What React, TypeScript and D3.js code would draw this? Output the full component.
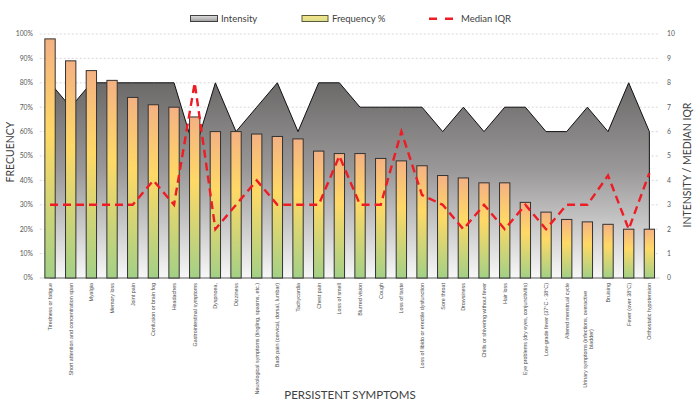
import React from "react";
import * as d3 from "d3";

const categories: string[] = [
  "Tiredness or fatigue",
  "Short attention and concentration span",
  "Myalgia",
  "Memory loss",
  "Joint pain",
  "Confusion or brain fog",
  "Headaches",
  "Gastrointestinal symptoms",
  "Dyspnoea,",
  "Dizziness",
  "Neurological symptoms (tingling, spasms, etc.)",
  "Back pain (cervical, dorsal, lumbar)",
  "Tachycardia",
  "Chest pain",
  "Loss of smell",
  "Blurred vision",
  "Cough",
  "Loss of taste",
  "Loss of libido or erectile dysfunction",
  "Sore throat",
  "Drowsiness",
  "Chills or shivering without fever",
  "Hair loss",
  "Eye problems (dry eyes, conjunctivitis)",
  "Low-grade fever (37°C - 38°C)",
  "Altered menstrual cycle",
  "Urinary symptoms (infections, overactive|bladder)",
  "Bruising",
  "Fever (over 38°C)",
  "Orthostatic hypotension",
];

const frequency: number[] = [
  98, 89, 85, 81, 74, 71, 70, 66, 60, 60, 59, 58, 57, 52, 51, 51, 49, 48, 46, 42,
  41, 39, 39, 31, 27, 24, 23, 22, 20, 20,
];

const intensity: number[] = [
  8, 7, 8, 8, 8, 8, 8, 5.2, 8, 6, 7, 8, 6, 8, 8, 7, 7, 7, 7, 6, 7, 6, 7, 7, 6, 6,
  7, 6, 8, 6,
];

const medianIQR: number[] = [
  3, 3, 3, 3, 3, 4, 3, 8, 2, 3, 4, 3, 3, 3, 5, 3, 3, 6, 3.4, 3, 2, 3, 2, 3, 2, 3,
  3, 4.2, 2, 4.3,
];

const leftTicks: number[] = [0, 10, 20, 30, 40, 50, 60, 70, 80, 90, 100];
const rightTicks: number[] = [0, 1, 2, 3, 4, 5, 6, 7, 8, 9, 10];

const W = 700;
const H = 410;
const PL = 39.7;
const PR = 659.7;
const PT = 34;
const PB = 278;

const tickFont = "Lato, 'Open Sans', sans-serif";
const labelFont = "'Liberation Sans', Arial, sans-serif";

export default function App() {
  const x = d3
    .scaleBand<string>()
    .domain(categories)
    .range([PL, PR])
    .paddingInner(0.5)
    .paddingOuter(0.25);
  const cx = (c: string) => (x(c) as number) + x.bandwidth() / 2;
  const yL = d3.scaleLinear().domain([0, 100]).range([PB, PT]);
  const yR = d3.scaleLinear().domain([0, 10]).range([PB, PT]);

  const areaGen = d3
    .area<number>()
    .x((_, i) => cx(categories[i]))
    .y0(yR(0))
    .y1((d) => yR(d));
  const lineGen = d3
    .line<number>()
    .x((_, i) => cx(categories[i]))
    .y((d) => yR(d));

  const labelFs = 5.4;
  const labelTop = 283;

  return (
    <svg
      width={W}
      height={H}
      style={{ position: "absolute", left: 0, top: 0, background: "#fff" }}
    >
      <defs>
        <linearGradient
          id="areaGrad"
          gradientUnits="userSpaceOnUse"
          x1="0"
          y1={yR(8)}
          x2="0"
          y2={yR(0)}
        >
          <stop offset="0" stopColor="#6c6969" />
          <stop offset="0.45" stopColor="#9a9898" />
          <stop offset="1" stopColor="#f8f8f8" />
        </linearGradient>
        <linearGradient id="barGrad" x1="0" y1="0" x2="0" y2="1">
          <stop offset="0" stopColor="#f4b183" />
          <stop offset="0.4" stopColor="#ffd966" />
          <stop offset="1" stopColor="#a3d086" />
        </linearGradient>
        <linearGradient id="legIntGrad" x1="0" y1="0" x2="0" y2="1">
          <stop offset="0" stopColor="#e0e0e0" />
          <stop offset="1" stopColor="#9c9c9c" />
        </linearGradient>
        <linearGradient id="legFreqGrad" x1="0" y1="0" x2="0" y2="1">
          <stop offset="0" stopColor="#f7e48a" />
          <stop offset="1" stopColor="#d9df8e" />
        </linearGradient>
      </defs>

      {/* gridlines */}
      {leftTicks.slice(1).map((t) => (
        <line
          key={"g" + t}
          x1={PL}
          x2={PR}
          y1={yL(t)}
          y2={yL(t)}
          stroke="#cfcfcf"
          strokeWidth={0.8}
          strokeDasharray="2,2"
        />
      ))}

      {/* intensity area */}
      <path
        d={areaGen(intensity) || ""}
        fill="url(#areaGrad)"
        stroke="#111"
        strokeWidth={1}
        strokeLinejoin="miter"
      />

      {/* axis baseline */}
      <line x1={PL} x2={PR} y1={PB} y2={PB} stroke="#d0d0d0" strokeWidth={1} />

      {/* bars */}
      {frequency.map((v, i) => (
        <rect
          key={"b" + i}
          x={x(categories[i])}
          y={yL(v)}
          width={x.bandwidth()}
          height={PB - yL(v)}
          fill="url(#barGrad)"
          stroke="#333"
          strokeWidth={1}
        />
      ))}

      {/* median IQR line */}
      <path
        d={lineGen(medianIQR) || ""}
        fill="none"
        stroke="#ee1c25"
        strokeWidth={2.4}
        strokeDasharray="8,5"
      />

      {/* left ticks */}
      {leftTicks.map((t) => (
        <text
          key={"l" + t}
          x={33}
          y={yL(t) + 2.4}
          textAnchor="end"
          fontSize={6.8}
          fontFamily={tickFont}
          fill="#595959"
        >
          {t + "%"}
        </text>
      ))}
      {/* right ticks */}
      {rightTicks.map((t) => (
        <text
          key={"r" + t}
          x={667}
          y={yR(t) + 2.4}
          textAnchor="start"
          fontSize={6.8}
          fontFamily={tickFont}
          fill="#595959"
        >
          {t}
        </text>
      ))}

      {/* x labels */}
      {categories.map((c, i) => {
        const lines = c.split("|");
        const px = cx(c);
        if (lines.length === 1) {
          return (
            <text
              key={"x" + i}
              transform={`translate(${px + labelFs * 0.35},${labelTop}) rotate(-90)`}
              textAnchor="end"
              fontSize={labelFs}
              fontFamily={labelFont}
              fill="#505050"
            >
              {c}
            </text>
          );
        }
        const longest = d3.max(lines, (l) => l.length) as number;
        const mid = labelTop + longest * labelFs * 0.26;
        return (
          <text
            key={"x" + i}
            transform={`translate(${px - 2.6 + labelFs * 0.35},${mid}) rotate(-90)`}
            textAnchor="middle"
            fontSize={labelFs}
            fontFamily={labelFont}
            fill="#505050"
          >
            {lines.map((l, j) => (
              <tspan key={j} x={0} dy={j === 0 ? 0 : labelFs * 1.2}>
                {l}
              </tspan>
            ))}
          </text>
        );
      })}

      {/* axis titles */}
      <text
        transform={`translate(14,152) rotate(-90)`}
        textAnchor="middle"
        fontSize={10.5}
        fontFamily={tickFont}
        fill="#404040"
      >
        FRECUENCY
      </text>
      <text
        transform={`translate(691,165) rotate(-90)`}
        textAnchor="middle"
        fontSize={10.5}
        fontFamily={tickFont}
        fill="#404040"
      >
        INTENSITY / MEDIAN IQR
      </text>
      <text
        x={350}
        y={399}
        textAnchor="middle"
        fontSize={11.5}
        fontFamily={tickFont}
        fill="#404040"
      >
        PERSISTENT SYMPTOMS
      </text>

      {/* legend */}
      <rect x={190.5} y={15.5} width={27} height={6} fill="url(#legIntGrad)" stroke="#404040" strokeWidth={1} />
      <text x={221} y={21.5} fontSize={9.5} fontFamily={tickFont} fill="#404040">
        Intensity
      </text>
      <rect x={302} y={15.5} width={26} height={6} fill="url(#legFreqGrad)" stroke="#5b5b3a" strokeWidth={1} />
      <text x={332} y={21.5} fontSize={9.5} fontFamily={tickFont} fill="#404040">
        Frequency %
      </text>
      <line x1={429} x2={453} y1={18.7} y2={18.7} stroke="#ee1c25" strokeWidth={2.4} strokeDasharray="8,8" />
      <text x={461} y={21.5} fontSize={9.5} fontFamily={tickFont} fill="#404040">
        Median IQR
      </text>
    </svg>
  );
}
